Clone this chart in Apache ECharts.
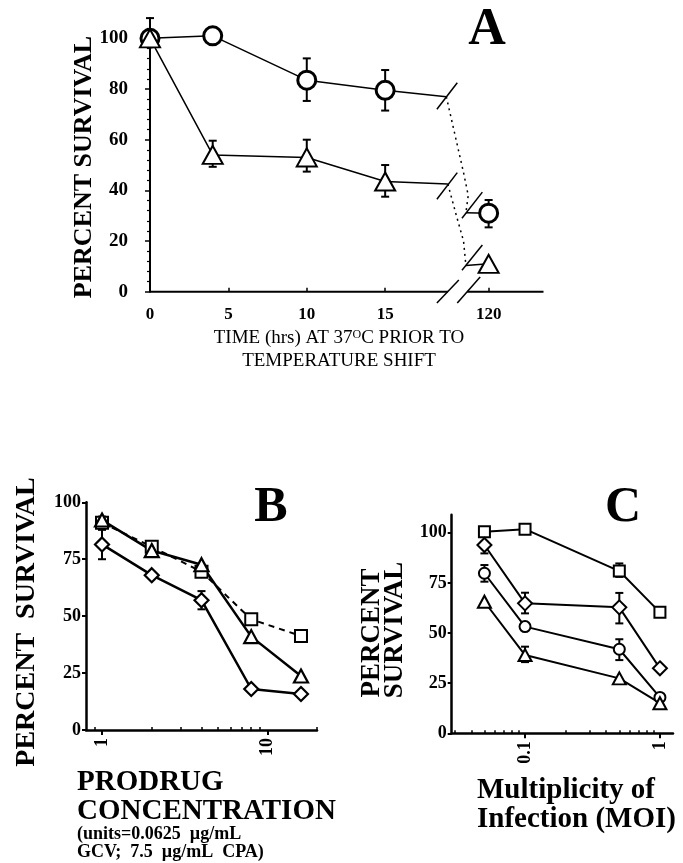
<!DOCTYPE html>
<html>
<head>
<meta charset="utf-8">
<script src="https://cdn.jsdelivr.net/npm/echarts@6/dist/echarts.min.js"></script>
<style>
  html, body { margin: 0; padding: 0; background: #fff; }
  #chart { width: 683px; height: 863px; }
</style>
</head>
<body>
<div id="chart"></div>
<script>
const FONT = "'Liberation Serif', 'DejaVu Serif', serif";

// ---- panel A: survival vs time at 37C ----
const timeA = [0, 4, 10, 15, 120];
const circleA = [100, 101, 83.5, 79.5, 31];
const circleLoA = [97, null, 75.3, 71.5, 25.4];
const circleHiA = [108, null, 92.1, 87.5, 36.2];
const triA = [100, 54, 53, 43.5, 11];
const triLoA = [null, 49.3, 47.4, 37.5, null];
const triHiA = [null, 59.6, 60, 50, null];
const tickTimesA = [0, 5, 10, 15, 120];

// ---- panel B: prodrug concentration ----
const concB = [1, 2, 4, 8, 16];
const triB = [92.2, 78.8, 72.6, 41, 23.7];
const triLoB = [88, null, null, null, null];
const triHiB = [93.7, null, null, null, null];
const squareB = [91, 80.5, 69.5, 48.6, 41.3];
const diamondB = [81.5, 68, 57, 18, 15.8];
const diamondLoB = [75, null, 53, null, null];
const diamondHiB = [88, null, 61, null, null];

// ---- panel C: multiplicity of infection ----
const moiC = [0.05, 0.1, 0.5, 1];
const squareC = [100.5, 101.8, 80.9, 60.3];
const squareLoC = [null, null, 78, null];
const squareHiC = [null, null, 84.7, null];
const diamondC = [93.9, 64.8, 62.8, 32.4];
const diamondLoC = [89.7, 59.8, 54.8, null];
const diamondHiC = [95.5, 70.1, 70, null];
const circleC = [79.8, 53.2, 41.9, 17.9];
const circleLoC = [75.6, null, 36.5, null];
const circleHiC = [83.9, null, 46.9, null];
const triC = [65.6, 39, 27.4, 15];
const triLoC = [null, 35.5, null, null];
const triHiC = [null, 43.2, null, null];

// broken time axis: 120 h is drawn just past the break
const POS120 = 21.6;
function posA(t) { return t > 15 ? POS120 : t; }

function pairs(xs, ys, fx) {
  return xs.map((x, i) => [fx ? fx(x) : x, ys[i]]);
}
function errRows(xs, lo, hi, fx) {
  const rows = [];
  xs.forEach((x, i) => {
    if (lo[i] != null) rows.push([fx ? fx(x) : x, lo[i], hi[i]]);
  });
  return rows;
}

// break marks of panel A (stubs, slashes, dotted joins, axis pieces)
const breakA = [
  { pts: [[15, circleA[3]], [18.9, 77]] },
  { pts: [[15, triA[3]], [19.0, 42.5]] },
  { pts: [[20.15, 31.2], [POS120, circleA[4]]] },
  { pts: [[20.15, 10.3], [POS120, triA[4]]] },
  { pts: [[18.3, 72], [19.6, 82.5]] },
  { pts: [[18.3, 36.5], [19.6, 47]] },
  { pts: [[19.9, 29], [21.2, 39.3]] },
  { pts: [[19.9, 8.5], [21.2, 18.4]] },
  { pts: [[18.3, -4.5], [19.7, 4.6]] },
  { pts: [[19.6, -4.5], [21.06, 5.8]] },
  { pts: [[0, 0], [19.0, 0]], w: 2 },
  { pts: [[20.23, 0], [25.1, 0]], w: 2 },
  { pts: [[18.9, 77], [20.0, 47], [20.3, 38], [20.15, 31.2]], dash: true },
  { pts: [[19.0, 42.5], [19.5, 31], [20.0, 20], [20.15, 10.3]], dash: true }
];

function errorBars(xi, yi, rows, cap, lw) {
  return {
    type: "custom", xAxisIndex: xi, yAxisIndex: yi, z: 1, silent: true,
    data: rows, encode: { x: 0, y: [1, 2] },
    renderItem: function (params, api) {
      const x = api.value(0);
      const top = api.coord([x, api.value(2)]);
      const bot = api.coord([x, api.value(1)]);
      const st = { stroke: "#000", lineWidth: lw };
      return {
        type: "group",
        children: [
          { type: "line", shape: { x1: top[0], y1: top[1], x2: bot[0], y2: bot[1] }, style: st },
          { type: "line", shape: { x1: top[0] - cap / 2, y1: top[1], x2: top[0] + cap / 2, y2: top[1] }, style: st },
          { type: "line", shape: { x1: bot[0] - cap / 2, y1: bot[1], x2: bot[0] + cap / 2, y2: bot[1] }, style: st }
        ]
      };
    }
  };
}

function lineSeries(xi, yi, data, symbol, size, bw, lw, dashed) {
  return {
    type: "line", xAxisIndex: xi, yAxisIndex: yi, z: 3, silent: true,
    data: data, symbol: symbol, symbolSize: size, showSymbol: true,
    itemStyle: { color: "#fff", borderColor: "#000", borderWidth: bw, opacity: 1 },
    lineStyle: { color: "#000", width: lw, type: dashed ? [6, 5] : "solid" },
    emphasis: { disabled: true }
  };
}

const labelStyle = { color: "#000", fontFamily: FONT, fontWeight: "bold", fontSize: 18 };
const blackLine = (w) => ({ show: true, lineStyle: { color: "#000", width: w } });

function logMinorAxis(grid, min, max, vals) {
  return {
    type: "log", gridIndex: grid, min: min, max: max, logBase: 10, position: "bottom", offset: 0,
    axisLine: { show: false }, splitLine: { show: false },
    axisTick: { show: true, inside: true, length: 3, customValues: vals, lineStyle: { color: "#000", width: 1.5 } },
    axisLabel: { show: false }
  };
}

const minorB = [0.9, 2, 3, 4, 5, 6, 7, 8, 9, 20];
const minorC = [0.03, 0.04, 0.05, 0.06, 0.07, 0.08, 0.09, 0.2, 0.3, 0.4, 0.5, 0.6, 0.7, 0.8, 0.9];

const chart = echarts.init(document.getElementById("chart"), null, { renderer: "canvas" });

const tickPosA = tickTimesA.map(posA);

const option = {
  backgroundColor: "#fff",
  animation: false,
  grid: [
    { left: 150, top: 18.1, width: 393.5, height: 273.6, containLabel: false, outerBoundsMode: "none" },
    { left: 86, top: 502.3, width: 231, height: 227.7, containLabel: false, outerBoundsMode: "none" },
    { left: 451.7, top: 514.7, width: 221.3, height: 218.6, containLabel: false, outerBoundsMode: "none" }
  ],
  xAxis: [
    {
      type: "value", gridIndex: 0, min: 0, max: 25.1,
      axisLine: { show: false }, splitLine: { show: false },
      axisTick: { show: true, inside: true, length: 4, customValues: tickPosA, lineStyle: { color: "#000", width: 1.5 } },
      axisLabel: Object.assign({}, labelStyle, {
        fontSize: 17, margin: 14, customValues: tickPosA,
        formatter: function (v) { return String(tickTimesA[tickPosA.indexOf(v)]); }
      })
    },
    {
      type: "log", gridIndex: 1, min: 0.8, max: 20, logBase: 10, position: "bottom",
      axisLine: blackLine(2.5), splitLine: { show: false },
      axisTick: { show: true, length: 5, customValues: [1, 10], lineStyle: { color: "#000", width: 2 } },
      axisLabel: Object.assign({}, labelStyle, { rotate: 90, margin: 8, customValues: [1, 10] })
    },
    logMinorAxis(1, 0.8, 20, minorB),
    {
      type: "log", gridIndex: 2, min: 0.0286, max: 1.25, logBase: 10, position: "bottom",
      axisLine: blackLine(2.5), splitLine: { show: false },
      axisTick: { show: true, length: 5, customValues: [0.1, 1], lineStyle: { color: "#000", width: 2 } },
      axisLabel: Object.assign({}, labelStyle, {
        rotate: 90, margin: 8, customValues: [0.1, 1],
        formatter: function (v) { return v < 1 ? "0.1" : "1"; }
      })
    },
    logMinorAxis(2, 0.0286, 1.25, minorC)
  ],
  yAxis: [
    {
      type: "value", gridIndex: 0, min: 0, max: 108, interval: 20,
      axisLine: blackLine(2), splitLine: { show: false },
      axisTick: { show: true, length: 5, customValues: [0, 20, 40, 60, 80, 100], lineStyle: { color: "#000", width: 1.5 } },
      minorTick: { show: true, splitNumber: 5, length: 3, lineStyle: { color: "#000", width: 1.2 } },
      axisLabel: Object.assign({}, labelStyle, { fontSize: 19, margin: 22, customValues: [0, 20, 40, 60, 80, 100] })
    },
    {
      type: "value", gridIndex: 1, min: 0, max: 100, interval: 25,
      axisLine: blackLine(2.5), splitLine: { show: false },
      axisTick: { show: true, length: 4, lineStyle: { color: "#000", width: 2 } },
      axisLabel: Object.assign({}, labelStyle, { margin: 5 })
    },
    {
      type: "value", gridIndex: 2, min: 0, max: 109, interval: 25,
      axisLine: blackLine(2.5), splitLine: { show: false },
      axisTick: { show: true, length: 4, customValues: [0, 25, 50, 75, 100], lineStyle: { color: "#000", width: 2 } },
      axisLabel: Object.assign({}, labelStyle, { margin: 5, customValues: [0, 25, 50, 75, 100] })
    }
  ],
  series: [
    // A
    errorBars(0, 0, errRows(timeA, circleLoA, circleHiA, posA), 8, 2),
    errorBars(0, 0, errRows(timeA, triLoA, triHiA, posA), 8, 2),
    {
      type: "custom", xAxisIndex: 0, yAxisIndex: 0, z: 2, silent: true,
      data: breakA.map(b => b.pts[0]),
      renderItem: function (params, api) {
        const b = breakA[params.dataIndex];
        return {
          type: "polyline",
          shape: { points: b.pts.map(p => api.coord(p)) },
          style: { stroke: "#000", fill: null, lineWidth: b.w || 1.5, lineDash: b.dash ? [2, 4] : null }
        };
      }
    },
    lineSeries(0, 0, pairs(timeA.slice(0, 4), circleA), "circle", 18, 3, 1.5),
    lineSeries(0, 0, [[posA(timeA[4]), circleA[4]]], "circle", 18, 3, 1.5),
    lineSeries(0, 0, pairs(timeA.slice(0, 4), triA), "triangle", [20, 18], 2, 1.5),
    lineSeries(0, 0, [[posA(timeA[4]), triA[4]]], "triangle", [20, 18], 2, 1.5),
    // B
    errorBars(1, 1, errRows(concB, triLoB, triHiB), 8, 2),
    errorBars(1, 1, errRows(concB, diamondLoB, diamondHiB), 8, 2),
    lineSeries(1, 1, pairs(concB, squareB), "rect", 12, 2, 2, true),
    lineSeries(1, 1, pairs(concB, triB), "triangle", [14, 13], 2.2, 2.5),
    lineSeries(1, 1, pairs(concB, diamondB), "diamond", 14, 2.2, 2.5),
    // C
    errorBars(3, 2, errRows(moiC, squareLoC, squareHiC), 8, 2),
    errorBars(3, 2, errRows(moiC, diamondLoC, diamondHiC), 8, 2),
    errorBars(3, 2, errRows(moiC, circleLoC, circleHiC), 8, 2),
    errorBars(3, 2, errRows(moiC, triLoC, triHiC), 8, 2),
    lineSeries(3, 2, pairs(moiC, squareC), "rect", 11, 2, 2),
    lineSeries(3, 2, pairs(moiC, diamondC), "diamond", 14, 2, 2),
    lineSeries(3, 2, pairs(moiC, circleC), "circle", 11, 2, 2),
    lineSeries(3, 2, pairs(moiC, triC), "triangle", [13, 12], 2, 2)
  ],
  graphic: [
    { type: "text", x: 487, y: 31, style: { text: "A", fontFamily: FONT, fontWeight: "bold", fontSize: 52, fill: "#000", align: "center", verticalAlign: "middle" } },
    { type: "text", x: 271, y: 508, style: { text: "B", fontFamily: FONT, fontWeight: "bold", fontSize: 50, fill: "#000", align: "center", verticalAlign: "middle" } },
    { type: "text", x: 623, y: 508, style: { text: "C", fontFamily: FONT, fontWeight: "bold", fontSize: 50, fill: "#000", align: "center", verticalAlign: "middle" } },
    { type: "text", x: 84, y: 167, rotation: Math.PI / 2, style: { text: "PERCENT SURVIVAL", fontFamily: FONT, fontWeight: "bold", fontSize: 26, fill: "#000", align: "center", verticalAlign: "middle" } },
    {
      type: "text", x: 339, y: 338,
      style: {
        text: "TIME (hrs) AT 37{sup|O}C PRIOR TO", fontFamily: FONT, fontSize: 19, fill: "#000", align: "center", verticalAlign: "middle",
        rich: { sup: { fontFamily: FONT, fontSize: 12, verticalAlign: "top", lineHeight: 19 } }
      }
    },
    { type: "text", x: 339, y: 361, style: { text: "TEMPERATURE SHIFT", fontFamily: FONT, fontSize: 19, fill: "#000", align: "center", verticalAlign: "middle" } },
    { type: "text", x: 27, y: 622, rotation: Math.PI / 2, style: { text: "PERCENT  SURVIVAL", fontFamily: FONT, fontWeight: "bold", fontSize: 28, fill: "#000", align: "center", verticalAlign: "middle" } },
    { type: "text", x: 77, y: 783, style: { text: "PRODRUG", fontFamily: FONT, fontWeight: "bold", fontSize: 29, fill: "#000", align: "left", verticalAlign: "middle" } },
    { type: "text", x: 77, y: 812, style: { text: "CONCENTRATION", fontFamily: FONT, fontWeight: "bold", fontSize: 29, fill: "#000", align: "left", verticalAlign: "middle" } },
    { type: "text", x: 77, y: 834, style: { text: "(units=0.0625  \u00b5g/mL", fontFamily: FONT, fontWeight: "bold", fontSize: 18, fill: "#000", align: "left", verticalAlign: "middle" } },
    { type: "text", x: 77, y: 852, style: { text: "GCV;  7.5  \u00b5g/mL  CPA)", fontFamily: FONT, fontWeight: "bold", fontSize: 18, fill: "#000", align: "left", verticalAlign: "middle" } },
    { type: "text", x: 372, y: 633, rotation: Math.PI / 2, style: { text: "PERCENT", fontFamily: FONT, fontWeight: "bold", fontSize: 27, fill: "#000", align: "center", verticalAlign: "middle" } },
    { type: "text", x: 395, y: 630, rotation: Math.PI / 2, style: { text: "SURVIVAL", fontFamily: FONT, fontWeight: "bold", fontSize: 27, fill: "#000", align: "center", verticalAlign: "middle" } },
    { type: "text", x: 477, y: 791, style: { text: "Multiplicity of", fontFamily: FONT, fontWeight: "bold", fontSize: 29, fill: "#000", align: "left", verticalAlign: "middle" } },
    { type: "text", x: 477, y: 820, style: { text: "Infection (MOI)", fontFamily: FONT, fontWeight: "bold", fontSize: 29, fill: "#000", align: "left", verticalAlign: "middle" } }
  ]
};

chart.setOption(option);
</script>
</body>
</html>
